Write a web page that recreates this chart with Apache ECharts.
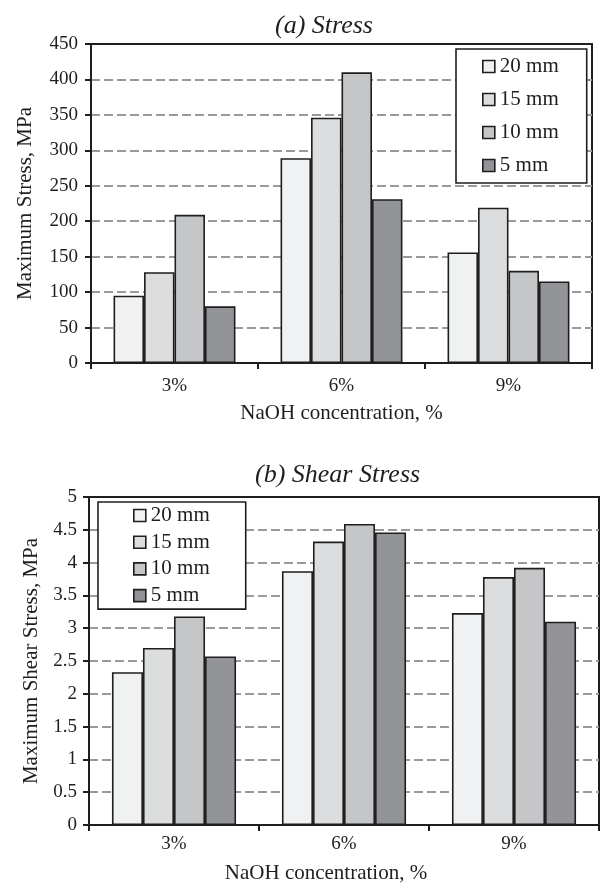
<!DOCTYPE html>
<html>
<head>
<meta charset="utf-8">
<script src="https://cdn.jsdelivr.net/npm/echarts@6/dist/echarts.min.js"></script>
<style>
html,body{margin:0;padding:0;background:#fff;}
#chart{width:600px;height:885px;}
</style>
</head>
<body>
<div id="chart"></div>
<script>
const categories = ['3%', '6%', '9%'];
const seriesNames = ['20 mm', '15 mm', '10 mm', '5 mm'];
const stressTicks = [0, 50, 100, 150, 200, 250, 300, 350, 400, 450];
const shearTicks = [0, 0.5, 1, 1.5, 2, 2.5, 3, 3.5, 4, 4.5, 5];

const stress20 = [95, 289, 156];
const stress15 = [128, 346, 219];
const stress10 = [209, 410, 130];
const stress5 = [80, 231, 115];

const shear20 = [2.33, 3.87, 3.23];
const shear15 = [2.70, 4.32, 3.78];
const shear10 = [3.18, 4.59, 3.92];
const shear5 = [2.57, 4.46, 3.10];

const fills = ['#f0f1f3', '#dcdddf', '#c5c6c8', '#939497'];
const FONT = '"Liberation Serif", "Times New Roman", serif';
const INK = '#1e1e1e';

const stressData = [stress20, stress15, stress10, stress5];
const shearData = [shear20, shear15, shear10, shear5];

function makeSeries(dataSets, idx) {
  return dataSets.map((d, i) => ({
    name: seriesNames[i],
    type: 'bar',
    xAxisIndex: idx,
    yAxisIndex: idx,
    data: d,
    barGap: '0%',
    barCategoryGap: '27%',
    itemStyle: { color: fills[i], borderColor: INK, borderWidth: 1.6 },
    emphasis: { disabled: true },
    animation: false
  }));
}

function xAxis(idx, nameGap, labelMargin, namePad) {
  return {
    type: 'category', gridIndex: idx, data: categories,
    name: 'NaOH concentration, %', nameLocation: 'middle', nameGap: nameGap,
    nameTextStyle: { fontFamily: FONT, fontSize: 21, color: INK, padding: namePad },
    axisLine: { lineStyle: { color: INK, width: 2 } },
    axisTick: { show: true, length: 6, lineStyle: { color: INK, width: 2 } },
    axisLabel: { fontFamily: FONT, fontSize: 19, color: INK, margin: labelMargin }
  };
}

function yAxis(idx, name, ticks, nameGap, labelMargin) {
  return {
    type: 'value', gridIndex: idx,
    min: ticks[0], max: ticks[ticks.length - 1], interval: ticks[1] - ticks[0],
    name: name, nameLocation: 'middle', nameGap: nameGap,
    nameTextStyle: { fontFamily: FONT, fontSize: 21, color: INK },
    axisLine: { show: true, lineStyle: { color: INK, width: 2 } },
    axisTick: { show: true, length: 6, lineStyle: { color: INK, width: 2 } },
    axisLabel: { fontFamily: FONT, fontSize: 19, color: INK, margin: labelMargin },
    splitLine: { show: true, showMaxLine: false, lineStyle: { color: '#9a9a9a', width: 2, type: [9, 4] } }
  };
}

function legend(left, top, gap, padding) {
  return {
    data: seriesNames, orient: 'vertical', left: left, top: top,
    itemWidth: 12, itemHeight: 12, itemGap: gap, itemTextGap: 4,
    icon: 'rect', padding: padding,
    backgroundColor: '#fff', borderColor: INK, borderWidth: 1.6,
    itemStyle: { borderColor: INK, borderWidth: 1.6 },
    textStyle: { fontFamily: FONT, fontSize: 21, color: INK },
    selectedMode: false
  };
}

const chart = echarts.init(document.getElementById('chart'));
chart.setOption({
  backgroundColor: '#fff',
  animation: false,
  title: [
    { text: '(a) Stress', left: 275, top: 13, padding: 0,
      textStyle: { fontFamily: FONT, fontSize: 26, fontStyle: 'italic', fontWeight: 'normal', color: INK } },
    { text: '(b) Shear Stress', left: 255, top: 462, padding: 0,
      textStyle: { fontFamily: FONT, fontSize: 26, fontStyle: 'italic', fontWeight: 'normal', color: INK } }
  ],
  grid: [
    { left: 91, right: 8, top: 44, height: 319, show: true, borderColor: INK, borderWidth: 2, backgroundColor: 'transparent' },
    { left: 89, right: 1, top: 497, height: 329, show: true, borderColor: INK, borderWidth: 2, backgroundColor: 'transparent' }
  ],
  legend: [
    legend(456, 49, 12, [7, 28, 7, 26]),
    legend(98, 502, 5.7, [3, 36, 3, 35])
  ],
  xAxis: [xAxis(0, 40, 14, [0, 0, 0, 0]), xAxis(1, 38, 10, [0, 36, 0, 0])],
  yAxis: [
    yAxis(0, 'Maximum Stress, MPa', stressTicks, 55, 13),
    yAxis(1, 'Maximum Shear Stress, MPa', shearTicks, 47, 12)
  ],
  series: makeSeries(stressData, 0).concat(makeSeries(shearData, 1))
});
</script>
</body>
</html>
